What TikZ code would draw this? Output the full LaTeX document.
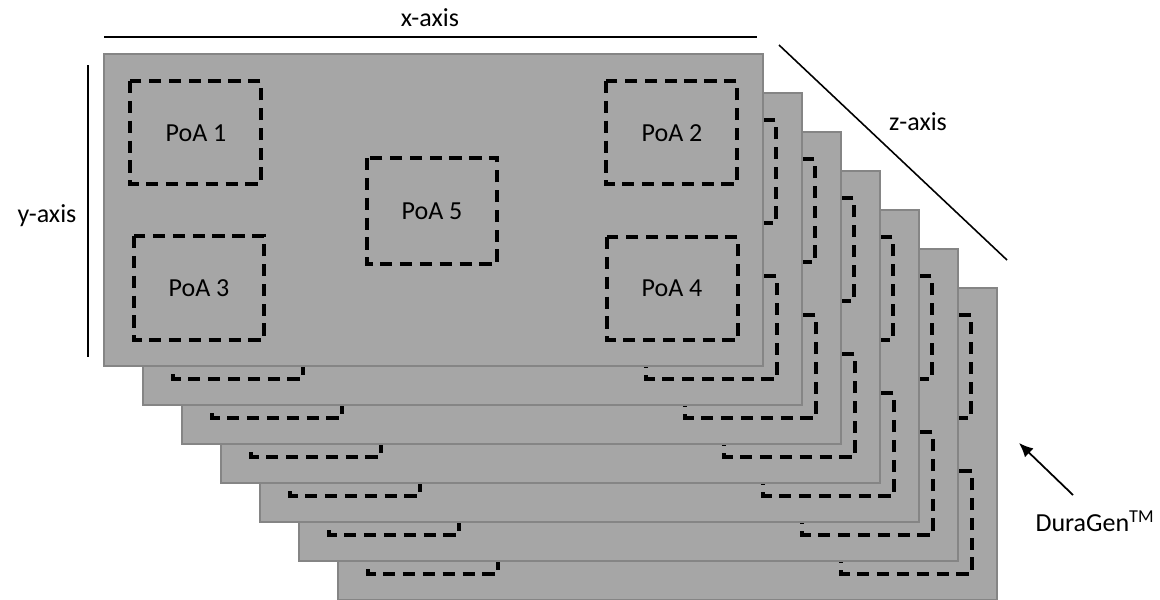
\documentclass[tikz,border=0pt]{standalone}
\usepackage{fontspec}
\setmainfont{Carlito}
\usetikzlibrary{arrows.meta}
\definecolor{SheetGray}{HTML}{A6A6A6}
\definecolor{EdgeGray}{HTML}{858585}

\begin{document}
\begin{tikzpicture}[x=0.02cm, y=-0.02cm, font=\fontsize{14.8}{17}\selectfont,
    sheet/.style={fill=SheetGray, draw=EdgeGray, line width=1.2pt},
    poa/.style={draw=black, line width=1.9pt, dash pattern=on 7pt off 4.3pt},
    axisline/.style={draw=black, line width=0.9pt}]

\useasboundingbox (0,0) rectangle (1160,599);

% --- stack of sheets, back to front ---
\foreach \k in {6,5,...,0}{
  \begin{scope}[shift={(39*\k,39*\k)}]
    \draw[sheet] (104,54) rectangle (763,366);
    \draw[poa] (130,81) rectangle (261,184);
    \draw[poa] (606,81) rectangle (737,184);
    \draw[poa] (134,236) rectangle (264,340);
    \draw[poa] (607,237) rectangle (738,340);
    \draw[poa] (367,158) rectangle (497,264);
  \end{scope}
}

% --- labels on the front sheet ---
\node (poa1) at (196,133) {PoA 1};
\node (poa2) at (672,133) {PoA 2};
\node (poa3) at (199,288) {PoA 3};
\node (poa4) at (672,288) {PoA 4};
\node (poa5) at (432,211) {PoA 5};

% --- axes ---
\draw[axisline, line width=1.2pt] (104,37) -- (757,37);
\node (xlabel) at (430,18) {x-axis};
\draw[axisline] (88,65) -- (88,357);
\node (ylabel) at (47,216) {y-axis};
\draw[axisline] (779,45) -- (1007,260);
\node (zlabel) at (918,122) {z-axis};

% --- product label ---
\node (dg) at (1095,521) {DuraGen\textsuperscript{TM}};
\coordinate (dgtail) at (1073,495);
\coordinate (dgtip) at (1019,443);
\draw[axisline, line width=1pt, -{Latex[length=8pt,width=7pt]}] (dgtail) -- (dgtip);

\end{tikzpicture}
\end{document}
